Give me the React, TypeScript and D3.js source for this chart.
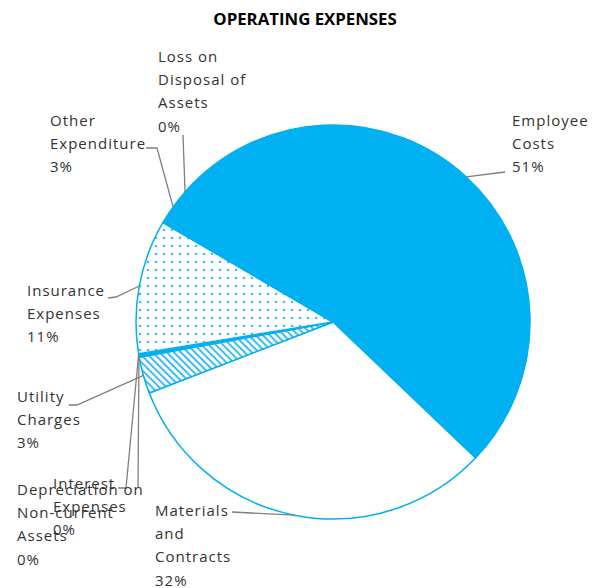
import React from "react";
import * as d3 from "d3";

const categories = [
  "Employee Costs",
  "Materials and Contracts",
  "Utility Charges",
  "Depreciation on Non-current Assets",
  "Interest Expenses",
  "Insurance Expenses",
  "Other Expenditure",
  "Loss on Disposal of Assets",
];
const values = [50.6, 32.0, 3.0, 0.2, 0.1, 11.0, 3.0, 0.1];
const labelLines = [
  ["Employee", "Costs"],
  ["Materials", "and", "Contracts"],
  ["Utility", "Charges"],
  ["Depreciation on", "Non-current", "Assets"],
  ["Interest", "Expenses"],
  ["Insurance", "Expenses"],
  ["Other", "Expenditure"],
  ["Loss on", "Disposal of", "Assets"],
];
const title = "OPERATING EXPENSES";

// layout (not data)
const W = 599, H = 588;
const CX = 333, CY = 322, R = 197;
const START_DEG = -48.5;
const BLUE = "#00B0F0";
const fills = ["url(#solid)", "#ffffff", "url(#hatch)", BLUE, "url(#dash)", "url(#dots)", "url(#solid)", BLUE];
const labelPos: { x: number; y: number; leader: [number, number][] }[] = [
  { x: 512, y: 121, leader: [[505, 172]] },
  { x: 155, y: 511, leader: [[232, 512]] },
  { x: 17, y: 397, leader: [[69, 405], [77, 405]] },
  { x: 17, y: 490, leader: [[138, 487]] },
  { x: 53, y: 484, leader: [[118, 488], [126, 488]] },
  { x: 27, y: 291, leader: [[108, 298], [116, 297]] },
  { x: 50, y: 121, leader: [[146, 148], [157, 148]] },
  { x: 158, y: 57, leader: [[183, 135]] },
];
const LINE_H = 23.2;

export default function App() {
  const total = d3.sum(values);
  const pie = d3
    .pie<number>()
    .sort(null)
    .value((d) => d)
    .startAngle((START_DEG * Math.PI) / 180)
    .endAngle((START_DEG * Math.PI) / 180 + 2 * Math.PI);
  const arcs = pie(values);
  const arc = d3.arc<d3.PieArcDatum<number>>().innerRadius(0).outerRadius(R);
  const fmt = d3.format(".0%");

  return (
    <svg width={W} height={H} style={{ position: "absolute", left: 0, top: 0, background: "#fff" }}>
      <defs>
        <pattern id="solid" width="4" height="4" patternUnits="userSpaceOnUse">
          <rect width="4" height="4" fill={BLUE} />
        </pattern>
        <pattern id="dots" width="8" height="8" patternUnits="userSpaceOnUse" x={CX} y={CY}>
          <rect width="8" height="8" fill="#fff" />
          <circle cx="2" cy="2" r="1.3" fill="#3cc0f0" />
        </pattern>
        <pattern id="hatch" width="5" height="5" patternUnits="userSpaceOnUse" patternTransform="rotate(-45)">
          <rect width="5" height="5" fill="#fff" />
          <rect x="0" y="0" width="2" height="5" fill="#3cbff0" />
        </pattern>
        <pattern id="dash" width="6" height="6" patternUnits="userSpaceOnUse">
          <rect width="6" height="6" fill={BLUE} />
          <rect x="0" y="2.5" width="3" height="1" fill="#fff" />
        </pattern>
      </defs>
      <text
        x={305}
        y={25}
        textAnchor="middle"
        fontFamily="'Open Sans', sans-serif"
        fontWeight={700}
        fontSize={16.8}
        fill="#000"
      >
        {title}
      </text>
      <g transform={`translate(${CX},${CY})`}>
        {arcs.map((a, i) => (
          <path key={categories[i]} d={arc(a) || ""} fill={fills[i]} stroke={BLUE} strokeWidth={1.5} strokeLinejoin="round" />
        ))}
      </g>
      {arcs.map((a, i) => {
        const mid = (a.startAngle + a.endAngle) / 2;
        const px = CX + R * Math.sin(mid);
        const py = CY - R * Math.cos(mid);
        const pts = [...labelPos[i].leader, [px, py]];
        const d = "M" + pts.map((p) => `${p[0]},${p[1]}`).join("L");
        return <path key={"l" + i} d={d} fill="none" stroke="#7f7f7f" strokeWidth={1.3} />;
      })}
      {arcs.map((a, i) => {
        const lines = [...labelLines[i], fmt(values[i] / total)];
        const { x, y } = labelPos[i];
        return (
          <text
            key={"t" + i}
            fontFamily="'Open Sans', sans-serif"
            fontSize={15}
            letterSpacing={1}
            fill="#333333"
          >
            {lines.map((ln, j) => (
              <tspan key={j} x={x} y={y + 5 + j * LINE_H}>
                {ln}
              </tspan>
            ))}
          </text>
        );
      })}
    </svg>
  );
}
